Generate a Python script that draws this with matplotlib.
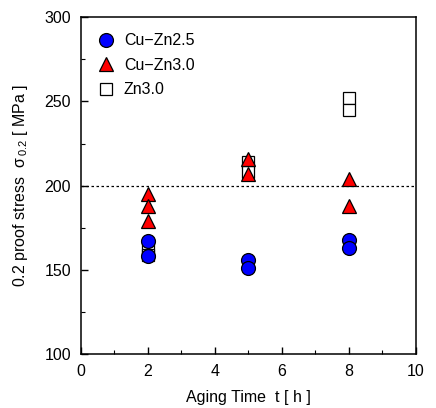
import matplotlib
matplotlib.use("Agg")
import matplotlib.pyplot as plt
from matplotlib.ticker import MultipleLocator

plt.rcParams["font.family"] = ["Liberation Sans", "DejaVu Sans"]
plt.rcParams["mathtext.fontset"] = "custom"
plt.rcParams["mathtext.rm"] = "Liberation Sans"

# data
t_cuzn25 = [2, 2, 5, 5, 8, 8]
s_cuzn25 = [167, 158, 156, 151, 168, 163]

t_cuzn30 = [2, 2, 2, 5, 5, 8, 8]
s_cuzn30 = [195, 188, 179, 216, 207, 204, 188]

t_zn30 = [2, 2, 5, 5, 8, 8]
s_zn30 = [163, 159, 214, 208, 252, 245]

fig = plt.figure(figsize=(4.36, 4.08), dpi=100)
ax = fig.add_axes([0.185, 0.132, 0.769, 0.826])

ax.axhline(200, color="black", linestyle=(0, (2, 2)), linewidth=0.9, zorder=1)

ax.plot(t_zn30, s_zn30, "s", ms=9, mfc="white", mec="black", mew=0.9,
        linestyle="none", label="Zn3.0", zorder=2)
ax.plot(t_cuzn30, s_cuzn30, "^", ms=10, mfc="red", mec="black", mew=0.9,
        linestyle="none", label="Cu\u2212Zn3.0", zorder=3)
ax.plot(t_cuzn25, s_cuzn25, "o", ms=10, mfc="blue", mec="black", mew=0.9,
        linestyle="none", label="Cu\u2212Zn2.5", zorder=4)

ax.set_xlim(0, 10)
ax.set_ylim(100, 300)
ax.xaxis.set_major_locator(MultipleLocator(2))
ax.xaxis.set_minor_locator(MultipleLocator(1))
ax.yaxis.set_major_locator(MultipleLocator(50))
ax.yaxis.set_minor_locator(MultipleLocator(25))
ax.tick_params(which="both", direction="in", top=False, right=False, labelsize=11.5)
ax.tick_params(which="major", length=5, width=1, pad=7)
ax.tick_params(which="minor", length=3, width=0.8)
for sp in ax.spines.values():
    sp.set_linewidth(1.1)

ax.set_xlabel("Aging Time  t [ h ]", fontsize=11.5, labelpad=8)
ax.set_ylabel("0.2 proof stress  \u03c3$_{\\,0.2}$ [ MPa ]", fontsize=11.5, labelpad=10)

h, l = ax.get_legend_handles_labels()
ax.legend(h[::-1], l[::-1], loc="upper left", frameon=False, fontsize=11.5,
          handletextpad=0.5, labelspacing=0.6, borderaxespad=0.6,
          handlelength=1.2)

fig.savefig("out.png", dpi=100)
